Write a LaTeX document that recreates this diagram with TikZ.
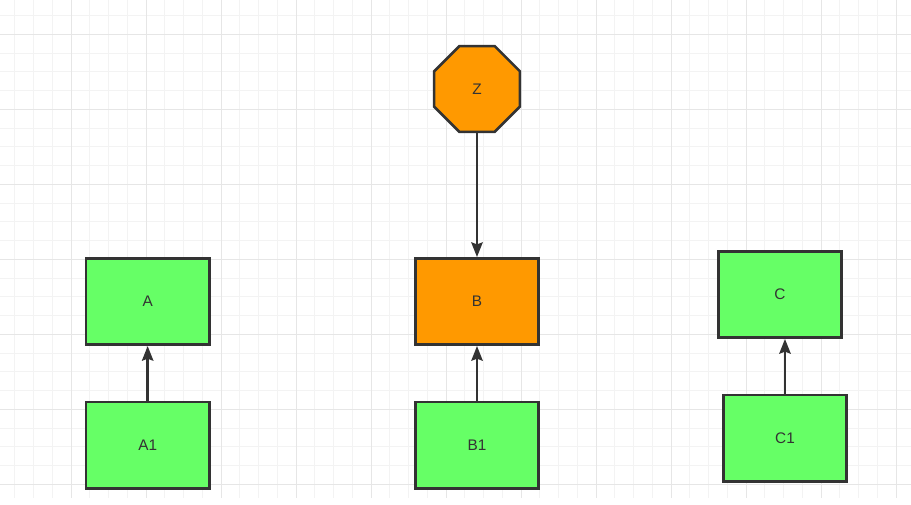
\documentclass[tikz,border=0pt]{standalone}
\usepackage{fontspec}
\setmainfont{Liberation Sans}
\usepackage{tikz}
\usetikzlibrary{positioning, shapes.geometric, arrows.meta}
\definecolor{boxgreen}{HTML}{66FF66}
\definecolor{boxorange}{HTML}{FF9900}
\definecolor{linegray}{HTML}{333333}
\definecolor{gridminor}{HTML}{F3F3F3}
\definecolor{gridmajor}{HTML}{E6E6E6}

\begin{document}
\begin{tikzpicture}[
                x=0.75pt, y=-0.75pt,
                box/.style={draw=linegray, line width=1.9pt, rectangle, minimum width=92.6pt, minimum height=64.8pt, text=linegray, font=\fontsize{11.5}{13}\selectfont},
                greenbox/.style={box, fill=boxgreen},
                orangebox/.style={box, fill=boxorange},
                octa/.style={draw=linegray, line width=1.9pt, regular polygon, regular polygon sides=8, minimum size=69.5pt, inner sep=0pt, fill=boxorange, text=linegray, font=\fontsize{11.5}{13}\selectfont},
                edge/.style={draw=linegray, line width=1.9pt, -{Stealth[length=11pt, width=8.5pt, inset=1.5pt]}},
                minorline/.style={gridminor, line width=0.75pt},
                majorline/.style={gridmajor, line width=0.75pt}
            ]

            % Hintergrund
            \useasboundingbox (0,0) rectangle (911,505);
            \fill[white] (0,0) rectangle (911,505);
            \foreach \i in {0,...,48} \draw[minorline] (14.75+18.75*\i,0) -- (14.75+18.75*\i,498);
            \foreach \j in {0,...,25} \draw[minorline] (0,15.55+18.75*\j) -- (911,15.55+18.75*\j);
            \foreach \i in {0,...,11} \draw[majorline] (71+75*\i,0) -- (71+75*\i,498);
            \foreach \j in {0,...,6} \draw[majorline] (0,34.3+75*\j) -- (911,34.3+75*\j);

            % Knoten
            \node[octa] (Z) at (477,89) {Z};
            \node[orangebox, below=93pt of Z] (B) {B};
            \node[greenbox, below=41pt of B] (B1) {B1};
            \node[greenbox, left=152.5pt of B] (A) {A};
            \node[greenbox, below=41pt of A] (A1) {A1};
            \node[greenbox] (C) at (780,294.5) {C};
            \node[greenbox, below=41pt of C, xshift=3.75pt] (C1) {C1};

            % Kanten zwischen Knoten
            \draw[edge] (Z.south) -- (B.north);
            \draw[edge] (B1.north) -- (B.south);
            \draw[edge] (A1.north) -- (A.south);
            \draw[edge] (C1.north) -- (C1.north |- C.south);

        \end{tikzpicture}
\end{document}
